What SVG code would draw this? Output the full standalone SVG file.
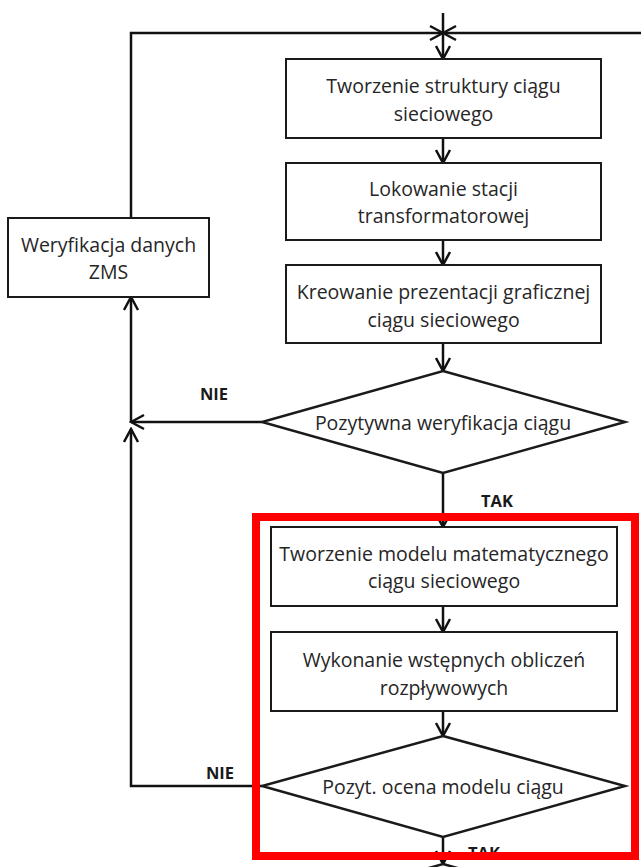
<svg xmlns="http://www.w3.org/2000/svg" width="641" height="867" viewBox="0 0 641 867">
  <style>
    .box { fill: #ffffff; stroke: #1a1a1a; stroke-width: 2; }
    .dec { fill: #ffffff; stroke: #1a1a1a; stroke-width: 2.5; stroke-linejoin: miter; }
    .lbl { font-family: "Open Sans", "Liberation Sans", sans-serif; font-size: 19.5px; fill: #262626; text-anchor: middle; dominant-baseline: central; }
    .yn { font-family: "Open Sans", "Liberation Sans", sans-serif; font-size: 16.5px; font-weight: bold; fill: #1a1a1a; text-anchor: middle; dominant-baseline: central; }
    .wire { fill: none; stroke: #111111; stroke-width: 2.5; }
    .frame { fill: none; stroke: #ff0000; stroke-width: 8; }
  </style>
  <defs>
    <marker id="arr" viewBox="-16 -9 18 18" refX="0" refY="0" markerWidth="18" markerHeight="18" markerUnits="userSpaceOnUse" orient="auto">
      <path d="M-13,-7 L0,0 L-13,7" fill="none" stroke="#111111" stroke-width="2.5"/>
    </marker>
  </defs>

  <rect width="641" height="867" fill="#ffffff"/>

  <!-- connectors -->
  <g id="connectors">
    <!-- loop back from ZMS verification to the merge point -->
    <path class="wire" d="M131,218 V33 H443" marker-end="url(#arr)"/>
    <path class="wire" d="M641,33 H443" marker-end="url(#arr)"/>
    <path class="wire" d="M443,13 V59" marker-end="url(#arr)"/>
    <path class="wire" d="M443,138 V163" marker-end="url(#arr)"/>
    <path class="wire" d="M443,240 V265" marker-end="url(#arr)"/>
    <path class="wire" d="M443,343 V371" marker-end="url(#arr)"/>
    <!-- NIE branch of the first decision -->
    <path class="wire" d="M262,422 H131" marker-end="url(#arr)"/>
    <path class="wire" d="M131,422 V297" marker-end="url(#arr)"/>
    <!-- TAK branch of the first decision -->
    <path class="wire" d="M443,473 V527" marker-end="url(#arr)"/>
    <path class="wire" d="M443,606 V632" marker-end="url(#arr)"/>
    <path class="wire" d="M443,711 V736" marker-end="url(#arr)"/>
    <!-- NIE branch of the second decision -->
    <path class="wire" d="M262,786 H131 V429" marker-end="url(#arr)"/>
    <!-- TAK branch of the second decision -->
    <path class="wire" d="M443,837 V864" marker-end="url(#arr)"/>
  </g>

  <g id="n_struktura">
    <rect class="box" x="286" y="59" width="315" height="79"/>
    <text class="lbl" x="443.5" y="85">Tworzenie struktury ciągu</text>
    <text class="lbl" x="443.5" y="113">sieciowego</text>
  </g>

  <g id="n_stacja">
    <rect class="box" x="286" y="163" width="315" height="77"/>
    <text class="lbl" x="443.5" y="188">Lokowanie stacji</text>
    <text class="lbl" x="443.5" y="215">transformatorowej</text>
  </g>

  <g id="n_grafika">
    <rect class="box" x="286" y="265" width="315" height="78"/>
    <text class="lbl" x="443.5" y="291">Kreowanie prezentacji graficznej</text>
    <text class="lbl" x="443.5" y="319">ciągu sieciowego</text>
  </g>

  <g id="n_zms">
    <rect class="box" x="8" y="218" width="201" height="79"/>
    <text class="lbl" x="108.5" y="244">Weryfikacja danych</text>
    <text class="lbl" x="108.5" y="271">ZMS</text>
  </g>

  <g id="d_weryfikacja">
    <polygon class="dec" points="443,371 625,422 443,473 262,422"/>
    <text class="lbl" x="443" y="422">Pozytywna weryfikacja ciągu</text>
    <text class="yn" x="214" y="393">NIE</text>
    <text class="yn" x="497" y="500">TAK</text>
  </g>

  <g id="n_model">
    <rect class="box" x="271" y="527" width="346" height="79"/>
    <text class="lbl" x="444" y="553">Tworzenie modelu matematycznego</text>
    <text class="lbl" x="444" y="580">ciągu sieciowego</text>
  </g>

  <g id="n_obliczenia">
    <rect class="box" x="271" y="632" width="346" height="79"/>
    <text class="lbl" x="444" y="659">Wykonanie wstępnych obliczeń</text>
    <text class="lbl" x="444" y="687">rozpływowych</text>
  </g>

  <g id="d_ocena">
    <polygon class="dec" points="443,736 625,786 443,837 262,786"/>
    <text class="lbl" x="443" y="786">Pozyt. ocena modelu ciągu</text>
    <text class="yn" x="220" y="772">NIE</text>
    <text class="yn" x="484" y="852">TAK</text>
  </g>

  <!-- next decision, only its top corner is in view -->
  <g id="d_next">
    <polygon class="dec" points="443,864 625,915 443,966 262,915"/>
  </g>

  <!-- highlight frame around the model stage -->
  <g id="highlight">
    <rect class="frame" x="256" y="517" width="379" height="339"/>
  </g>
</svg>
